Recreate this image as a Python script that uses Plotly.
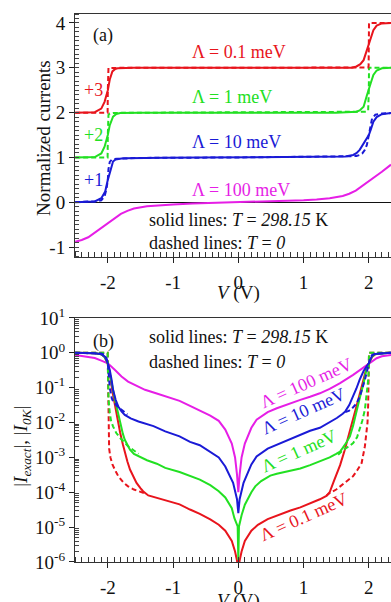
import plotly.graph_objects as go

# ---------------- DATA ----------------
# Panel (a): normalized currents (offsets +3, +2, +1 included as drawn)
v_red_a = [-2.5, -2.3, -2.2, -2.1, -2.05, -2.0, -1.97, -1.93, -1.89, -1.85, -1.8, -1.6,
           1.6, 1.74, 1.81, 1.87, 1.92, 1.97, 2.0, 2.03, 2.07, 2.12, 2.2, 2.34]
i_red_a = [2.0, 2.002, 2.01, 2.09, 2.24, 2.5, 2.74, 2.92, 2.97, 2.99, 2.995, 3.0,
           3.0, 3.003, 3.03, 3.08, 3.17, 3.4, 3.5, 3.66, 3.84, 3.94, 3.99, 4.0]
v_red_a_d = [-2.5, -2.003, -2.0, -1.997, -1.99, -1.8, 1.8, 1.99, 1.997, 2.0, 2.003, 2.34]
i_red_a_d = [2.0, 2.0, 2.5, 2.96, 2.995, 3.0, 3.0, 3.005, 3.04, 3.5, 4.0, 4.0]

v_green_a = [-2.5, -2.2, -2.1, -2.05, -2.0, -1.97, -1.92, -1.87, -1.81, -1.7, -1.5,
             1.5, 1.71, 1.81, 1.86, 1.92, 1.97, 2.0, 2.03, 2.07, 2.12, 2.2, 2.34]
i_green_a = [1.0, 1.01, 1.09, 1.24, 1.5, 1.72, 1.91, 1.97, 1.99, 1.998, 2.0,
             2.0, 2.004, 2.02, 2.05, 2.13, 2.38, 2.5, 2.66, 2.84, 2.94, 2.99, 3.0]
v_green_a_d = [-2.5, -2.003, -2.0, -1.997, -1.99, -1.97, -1.92, -1.8,
               1.8, 1.92, 1.97, 1.99, 1.997, 2.0, 2.003, 2.34]
i_green_a_d = [1.0, 1.0, 1.5, 1.84, 1.95, 1.98, 1.992, 1.996,
               2.004, 2.008, 2.02, 2.05, 2.2, 2.5, 3.0, 3.0]

v_blue_a = [-2.5, -2.3, -2.2, -2.1, -2.04, -2.0, -1.97, -1.94, -1.92, -1.88, -1.84, -1.79,
            -1.74, -1.53, -1.12, -0.59, 0.0, 0.59, 1.1, 1.51, 1.64, 1.76, 1.81, 1.86,
            1.92, 1.97, 2.0, 2.03, 2.07, 2.12, 2.2, 2.34]
i_blue_a = [0.0, 0.005, 0.02, 0.09, 0.24, 0.5, 0.68, 0.84, 0.91, 0.955, 0.971, 0.979,
            0.983, 0.989, 0.994, 0.998, 1.0, 1.002, 1.006, 1.013, 1.021, 1.056, 1.095, 1.17,
            1.3, 1.42, 1.5, 1.62, 1.8, 1.9, 1.965, 1.99]
v_blue_a_d = [-2.5, -2.2, -2.1, -2.05, -2.02, -2.0, -1.99, -1.97, -1.94, -1.92, -1.86, -1.81,
              -1.74, -1.5, 0.0, 1.5, 1.7, 1.76, 1.81, 1.86, 1.9, 1.94, 1.97, 2.0, 2.02,
              2.05, 2.1, 2.2, 2.34]
i_blue_a_d = [0.005, 0.02, 0.045, 0.13, 0.3, 0.5, 0.74, 0.9, 0.95, 0.96, 0.97, 0.975,
              0.981, 0.99, 1.0, 1.01, 1.022, 1.028, 1.035, 1.054, 1.09, 1.17, 1.28, 1.5, 1.7,
              1.87, 1.955, 1.98, 1.99]

v_mag_a = [-2.5, -2.4, -2.3, -2.2, -2.1, -2.0, -1.9, -1.8, -1.7, -1.6, -1.4, -1.2, -1.0,
           -0.7, -0.4, 0.0, 0.4, 0.7, 1.0, 1.2, 1.4, 1.6, 1.7, 1.8, 1.9, 2.0, 2.1, 2.2, 2.34]
i_mag_a = [-0.88, -0.84, -0.78, -0.68, -0.58, -0.48, -0.36, -0.26, -0.19, -0.14, -0.09,
           -0.065, -0.048, -0.028, -0.016, 0.0, 0.016, 0.028, 0.048, 0.065, 0.09, 0.14,
           0.19, 0.26, 0.36, 0.48, 0.58, 0.68, 0.84]

# Panel (b): |I| on log scale (None = gap where the dashed curve lies under the solid one)
v_red_b = [-2.5, -2.2, -2.1, -2.05, -2.0, -1.97, -1.93, -1.89, -1.85, -1.81, -1.77, -1.74,
           -1.7, -1.66, -1.61, -1.56, -1.5, -1.46, -1.38, -1.25, -1.12, -0.9, -0.74, -0.59,
           -0.43, -0.3, -0.2, -0.1, -0.05, -0.02, 0.0, 0.02, 0.05, 0.1, 0.2, 0.3, 0.45,
           0.59, 0.8, 0.95, 1.1, 1.25, 1.35, 1.4, 1.46, 1.51, 1.56, 1.63, 1.69, 1.75, 1.81,
           1.87, 1.92, 1.97, 2.0, 2.05, 2.1, 2.2, 2.34]
i_red_b = [1.0, 0.977, 0.91, 0.76, 0.5, 0.26, 0.079, 0.029, 0.011, 5.0e-3, 2.4e-3, 1.35e-3,
           7.6e-4, 4.5e-4, 2.75e-4, 1.86e-4, 1.32e-4, 1.07e-4, 8.1e-5, 6.9e-5, 5.9e-5, 4.5e-5,
           3.2e-5, 2.4e-5, 1.66e-5, 1.17e-5, 7.9e-6, 4.0e-6, 2.0e-6, 1.1e-6, 5.0e-7, 1.1e-6,
           2.0e-6, 4.0e-6, 7.9e-6, 1.17e-5, 1.7e-5, 2.15e-5, 3.0e-5, 3.7e-5, 4.8e-5, 6.3e-5,
           7.9e-5, 1.0e-4, 2.0e-4, 3.5e-4, 6.0e-4, 1.6e-3, 4.0e-3, 0.011, 0.029, 0.076, 0.17,
           0.4, 0.5, 0.76, 0.91, 0.977, 1.0]
v_red_b_d = [-2.5, -2.002, -2.0, -1.995, -1.99, -1.98, -1.96, -1.93, -1.88, -1.84, -1.76,
             -1.69, -1.6, -1.5, -1.43, None, 1.35, 1.4, 1.5, 1.56, 1.66, 1.76, 1.83, 1.89,
             1.94, 1.97, 1.98, 1.99, 1.997, 2.0, 2.003, 2.34]
i_red_b_d = [1.0, 1.0, 0.5, 0.032, 5.0e-3, 1.8e-3, 1.0e-3, 6.3e-4, 4.0e-4, 2.9e-4, 1.9e-4,
             1.48e-4, 1.2e-4, 1.05e-4, 9.3e-5, None, 7.9e-5, 9.5e-5, 1.2e-4, 1.48e-4, 2.0e-4,
             2.9e-4, 4.5e-4, 6.9e-4, 2.1e-3, 6.3e-3, 0.01, 0.032, 0.1, 0.5, 1.0, 1.0]

v_green_b = [-2.5, -2.2, -2.1, -2.05, -2.0, -1.97, -1.92, -1.89, -1.85, -1.81, -1.77, -1.74,
             -1.7, -1.66, -1.6, -1.53, -1.4, -1.25, -1.12, -0.9, -0.74, -0.59, -0.43, -0.3,
             -0.2, -0.1, -0.06, -0.01, 0.0, 0.01, 0.05, 0.1, 0.2, 0.26, 0.35, 0.49, 0.59,
             0.8, 0.95, 1.1, 1.25, 1.4, 1.5, 1.56, 1.64, 1.71, 1.76, 1.81, 1.86, 1.92, 1.97,
             2.0, 2.05, 2.1, 2.34]
i_green_b = [1.0, 0.977, 0.91, 0.76, 0.5, 0.28, 0.087, 0.045, 0.02, 9.5e-3, 4.8e-3, 3.2e-3,
             2.2e-3, 1.66e-3, 1.26e-3, 1.07e-3, 8.3e-4, 6.6e-4, 5.0e-4, 3.8e-4, 3.0e-4,
             2.3e-4, 1.6e-4, 1.07e-4, 7.1e-5, 3.5e-5, 1.8e-5, 1.05e-5, 1.17e-6, 1.05e-5,
             2.2e-5, 4.4e-5, 1.0e-4, 1.48e-4, 2.1e-4, 3.0e-4, 3.4e-4, 4.2e-4, 4.8e-4, 6.0e-4,
             7.6e-4, 1.0e-3, 1.26e-3, 1.48e-3, 2.4e-3, 4.0e-3, 8.3e-3, 0.0186, 0.05, 0.135,
             0.38, 0.5, 0.79, 0.93, 1.0]
v_green_b_d = [-2.5, -2.003, -2.0, -1.997, -1.99, -1.97, -1.95, -1.92, -1.87, -1.81, -1.75,
               -1.69, -1.6, -1.53, None, 1.53, 1.61, 1.7, 1.76, 1.82, 1.86, 1.9, 1.94, 1.98,
               1.995, 2.0, 2.003, 2.34]
i_green_b_d = [1.0, 1.0, 0.5, 0.16, 0.05, 0.0186, 0.0112, 7.8e-3, 5.0e-3, 3.6e-3, 2.7e-3,
               2.1e-3, 1.58e-3, 1.26e-3, None, 1.2e-3, 1.66e-3, 2.1e-3, 2.6e-3, 3.8e-3,
               6.3e-3, 0.0112, 0.0234, 0.087, 0.2, 0.5, 1.0, 1.0]

v_blue_b = [-2.5, -2.2, -2.1, -2.04, -2.0, -1.97, -1.94, -1.92, -1.88, -1.84, -1.79, -1.74,
            -1.65, -1.53, -1.3, -1.12, -0.9, -0.74, -0.59, -0.43, -0.3, -0.2, -0.08, -0.02,
            0.0, 0.02, 0.08, 0.2, 0.28, 0.45, 0.59, 0.8, 0.95, 1.1, 1.25, 1.4, 1.51, 1.6,
            1.64, 1.7, 1.76, 1.81, 1.86, 1.92, 1.97, 2.0, 2.05, 2.1, 2.34]
i_blue_b = [1.0, 0.977, 0.91, 0.76, 0.5, 0.32, 0.16, 0.087, 0.045, 0.029, 0.021, 0.0166,
            0.0132, 0.0107, 7.9e-3, 5.6e-3, 4.0e-3, 2.8e-3, 2.24e-3, 1.41e-3, 1.0e-3, 5.5e-4,
            1.86e-4, 6.3e-5, 2.5e-5, 6.3e-5, 1.86e-4, 6.3e-4, 1.07e-3, 1.78e-3, 2.3e-3,
            3.3e-3, 4.5e-3, 5.8e-3, 7.1e-3, 0.01, 0.0135, 0.0178, 0.0209, 0.0316, 0.056,
            0.095, 0.17, 0.3, 0.42, 0.5, 0.83, 0.93, 1.0]
v_blue_b_d = [-2.5, -2.1, -2.05, -2.02, -2.0, -1.99, -1.97, -1.94, -1.92, -1.86, -1.81, -1.74,
              -1.7, None, 1.64, 1.7, 1.76, 1.81, 1.86, 1.9, 1.94, 1.97, 2.0, 2.02, 2.05, 2.1,
              2.34]
i_blue_b_d = [1.0, 0.95, 0.87, 0.71, 0.5, 0.26, 0.1, 0.05, 0.041, 0.030, 0.025, 0.019,
              0.017, None, 0.02, 0.022, 0.0275, 0.035, 0.054, 0.089, 0.17, 0.28, 0.5, 0.71,
              0.87, 0.95, 1.0]

v_mag_b = [-2.5, -2.4, -2.3, -2.2, -2.1, -2.0, -1.89, -1.79, -1.69, -1.56, -1.43, -1.25,
           -1.1, -0.9, -0.74, -0.59, -0.43, -0.3, -0.2, -0.1, -0.05, -0.02, 0.0, 0.02, 0.05,
           0.1, 0.2, 0.28, 0.45, 0.59, 0.8, 0.95, 1.1, 1.25, 1.4, 1.56, 1.76, 1.9, 2.0, 2.12,
           2.2, 2.34]
i_mag_b = [0.87, 0.81, 0.78, 0.71, 0.6, 0.5, 0.32, 0.21, 0.15, 0.112, 0.087, 0.068, 0.056,
           0.042, 0.03, 0.022, 0.0158, 0.0112, 6.3e-3, 2.5e-3, 1.0e-3, 3.2e-4, 1.0e-4,
           3.2e-4, 1.0e-3, 2.5e-3, 7.1e-3, 0.012, 0.02, 0.0257, 0.036, 0.0447, 0.055, 0.069,
           0.093, 0.135, 0.234, 0.355, 0.48, 0.7, 0.8, 0.87]

xtick_vals = [-2, -1, 0, 1, 2]
xtick_text = ["-2", "-1", "0", "1", "2"]
ya_tick_vals = [-1, 0, 1, 2, 3, 4]
ya_tick_text = ["-1", "0", "1", "2", "3", "4"]
yb_exponents = [-6, -5, -4, -3, -2, -1, 0, 1]

# ---------------- STYLE ----------------
RED = "#e8141c"
GREEN = "#22e022"
BLUE = "#1a1ad6"
MAG = "#e61ee6"
FONT = "Liberation Serif, Times New Roman, serif"
LW = 2.0
DASH = "5px,3px"

fig = go.Figure()


def add(x, y, color, dashed, xa, ya):
    fig.add_trace(go.Scatter(
        x=x, y=y, mode="lines", xaxis=xa, yaxis=ya, showlegend=False,
        connectgaps=False,
        line=dict(color=color, width=LW, dash=DASH if dashed else "solid"),
        hoverinfo="skip"))


# panel (a)
add(v_mag_a, i_mag_a, MAG, False, "x", "y")
add(v_blue_a_d, i_blue_a_d, BLUE, True, "x", "y")
add(v_blue_a, i_blue_a, BLUE, False, "x", "y")
add(v_green_a_d, i_green_a_d, GREEN, True, "x", "y")
add(v_green_a, i_green_a, GREEN, False, "x", "y")
add(v_red_a_d, i_red_a_d, RED, True, "x", "y")
add(v_red_a, i_red_a, RED, False, "x", "y")

# panel (b)
add(v_mag_b, i_mag_b, MAG, False, "x2", "y2")
add(v_red_b_d, i_red_b_d, RED, True, "x2", "y2")
add(v_red_b, i_red_b, RED, False, "x2", "y2")
add(v_green_b_d, i_green_b_d, GREEN, True, "x2", "y2")
add(v_green_b, i_green_b, GREEN, False, "x2", "y2")
add(v_blue_b_d, i_blue_b_d, BLUE, True, "x2", "y2")
add(v_blue_b, i_blue_b, BLUE, False, "x2", "y2")

xr = [-2.503, 2.34]
common_x = dict(
    range=xr, tickmode="array", tickvals=xtick_vals, ticktext=xtick_text,
    ticks="outside", ticklen=5, tickwidth=1, tickcolor="#222", ticklabelstandoff=3,
    minor=dict(ticks="inside", dtick=0.1, tick0=0, ticklen=5, tickcolor="#333", tickwidth=1),
    showline=True, linecolor="#333", linewidth=1, mirror=True,
    showgrid=False, zeroline=False, automargin=False,
    tickfont=dict(family=FONT, size=19, color="#111"),
)

minor_log = []
for e in range(-6, 1):
    for k in range(2, 10):
        minor_log.append(k * 10 ** e)

fig.update_layout(
    width=391, height=602,
    margin=dict(l=75, r=0, t=14, b=40),
    paper_bgcolor="white", plot_bgcolor="white",
    xaxis=dict(common_x, domain=[0, 1], anchor="y"),
    yaxis=dict(
        domain=[0.5566, 1.0], anchor="x", range=[-1.22, 4.2],
        tickmode="array", tickvals=ya_tick_vals, ticktext=ya_tick_text,
        ticks="outside", ticklen=5, tickcolor="#222",
        minor=dict(ticks="inside", dtick=0.1, tick0=0, ticklen=4, tickcolor="#444"),
        showline=True, linecolor="#333", linewidth=1, mirror=False,
        showgrid=False, zeroline=True, zerolinecolor="#111", zerolinewidth=1.3,
        automargin=False,
        tickfont=dict(family=FONT, size=19, color="#111"),
    ),
    xaxis2=dict(common_x, domain=[0, 1], anchor="y2"),
    yaxis2=dict(
        domain=[0.0, 0.4453], anchor="x2", type="log", range=[-6, 1],
        tickmode="array", tickvals=[10 ** e for e in yb_exponents],
        ticktext=["10<sup>%d</sup>" % e for e in yb_exponents],
        ticks="outside", ticklen=5, tickcolor="#222",
        minor=dict(ticks="inside", tickvals=minor_log, ticklen=4, tickcolor="#444"),
        showline=True, linecolor="#333", linewidth=1, mirror=False,
        showgrid=False, zeroline=False, automargin=False,
        tickfont=dict(family=FONT, size=19, color="#111"),
    ),
)

ann = []


def txt(x, y, s, color="#111", xref="x", yref="y", xanchor="left", angle=0, size=18):
    ann.append(dict(x=x, y=y, xref=xref, yref=yref, text=s, showarrow=False,
                    xanchor=xanchor, yanchor="middle", textangle=angle,
                    font=dict(family=FONT, size=size, color=color)))


# axis titles (paper coordinates; plot area spans 14..562 px vertically, 75..391 px horizontally)
txt(0.0, 0.4909, "<i>V</i> (V)", xref="x", yref="paper", xanchor="center", size=19)
txt(0.0, -0.0712, "<i>V</i> (V)", xref="x2", yref="paper", xanchor="center", size=19)
txt(-0.098, 0.774, "Normalized currents", xref="paper", yref="paper", xanchor="center",
    angle=-90, size=19)
txt(-0.168, 0.212, "|<i>I</i><sub><i>exact</i></sub>|, |<i>I</i><sub><i>0K</i></sub>|",
    xref="paper", yref="paper", xanchor="center", angle=-90, size=19)

# panel (a) labels
txt(-2.07, 3.73, "(a)", xanchor="center")
txt(-0.74, 3.35, "Λ = 0.1 meV", RED)
txt(-0.74, 2.35, "Λ = 1 meV", GREEN)
txt(-0.74, 1.34, "Λ = 10 meV", BLUE)
txt(-0.74, 0.27, "Λ = 100 meV", MAG)
txt(-2.4, 2.5, "+3", RED)
txt(-2.4, 1.5, "+2", GREEN)
txt(-2.4, 0.5, "+1", BLUE)
txt(-1.4, -0.395, "solid lines: <i>T</i> = <i>298.15</i> K")
txt(-1.4, -0.91, "dashed lines: <i>T</i> = <i>0</i>")

# panel (b) labels (log axis: y given as exponent)
txt(-2.07, 0.315, "(b)", xref="x2", yref="y2", xanchor="center")
txt(-1.4, 0.46, "solid lines: <i>T</i> = <i>298.15</i> K", xref="x2", yref="y2")
txt(-1.4, -0.26, "dashed lines: <i>T</i> = <i>0</i>", xref="x2", yref="y2")
txt(1.04, -0.86, "Λ = 100 meV", MAG, "x2", "y2", "center", -24)
txt(1.0, -1.68, "Λ = 10 meV", BLUE, "x2", "y2", "center", -24)
txt(0.93, -2.83, "Λ = 1 meV", GREEN, "x2", "y2", "center", -24)
txt(1.0, -4.72, "Λ = 0.1 meV", RED, "x2", "y2", "center", -24)

fig.update_layout(annotations=ann)
fig.write_html("out.html")
